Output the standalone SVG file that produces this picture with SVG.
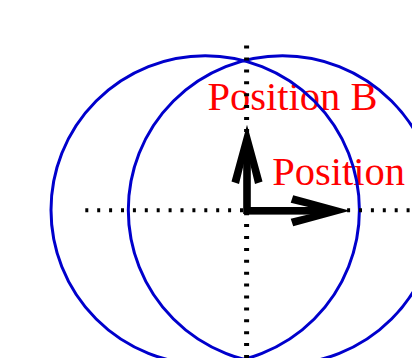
<svg xmlns="http://www.w3.org/2000/svg" width="412" height="358" viewBox="0 0 412 358">
  <style>
    .lbl { font-family: "Liberation Serif", "Times New Roman", serif; font-size: 40.5px; fill: #ff0000; }
    .circ { fill: none; stroke: #0000cc; stroke-width: 3; }
    .dot { fill: none; stroke: #000000; stroke-dasharray: 3 8.9; }
    .arr { fill: #000000; stroke: none; }
  </style>
  <rect width="412" height="358" fill="#ffffff"/>
  <g id="labels">
    <text class="lbl" x="207.5" y="110">Position B</text>
    <text class="lbl" x="272.2" y="185">Position</text>
  </g>
  <g id="circle-a">
    <circle class="circ" cx="205.2" cy="210" r="154.2"/>
  </g>
  <g id="circle-b">
    <circle class="circ" cx="282.5" cy="210" r="154.2"/>
  </g>
  <g id="axes">
    <line class="dot" x1="85.3" y1="210.3" x2="412" y2="210.3" stroke-width="4"/>
    <line class="dot" x1="246.6" y1="45.6" x2="246.6" y2="358" stroke-width="5"/>
  </g>
  <g id="arrows">
    <rect class="arr" x="243.2" y="140" width="7.6" height="74"/>
    <path class="arr" d="M247,124.7 L262.5,181.5 L255,184 L247,151 L239,184 L231.5,181.5 Z"/>
    <rect class="arr" x="247" y="207" width="85" height="7.6"/>
    <path class="arr" d="M350,210.8 L293.2,195.3 L290.7,202.8 L323.7,210.8 L290.7,218.8 L293.2,226.3 Z"/>
  </g>
</svg>
